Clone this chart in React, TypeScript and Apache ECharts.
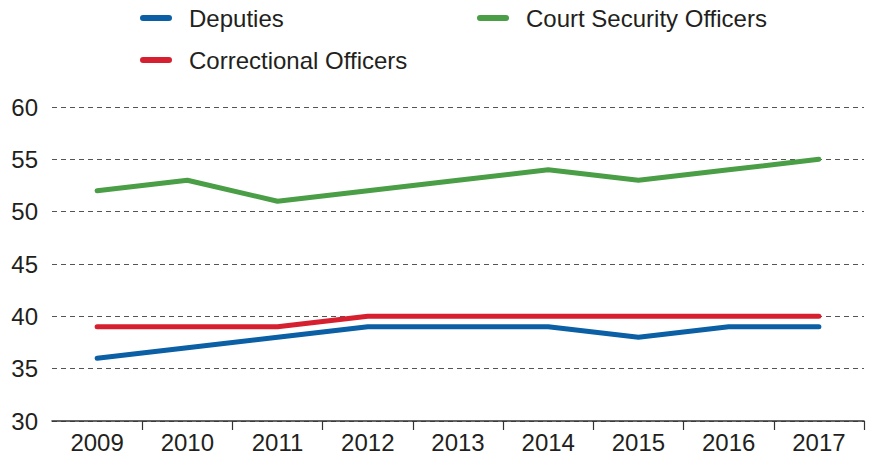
import React, { useEffect, useRef } from "react";
import * as echarts from "echarts";

const years = ["2009", "2010", "2011", "2012", "2013", "2014", "2015", "2016", "2017"];
const deputies = [36, 37, 38, 39, 39, 39, 38, 39, 39];
const courtSecurity = [52, 53, 51, 52, 53, 54, 53, 54, 55];
const correctional = [39, 39, 39, 40, 40, 40, 40, 40, 40];

const FONT = "'Liberation Sans', Arial, sans-serif";
const TEXT = "#231f20";
const PILL = "path://M3,0 H29 A3,3 0 0 1 29,6 H3 A3,3 0 0 1 3,0 Z";

export default function App() {
  const ref = useRef<HTMLDivElement>(null);
  useEffect(() => {
    document.body.style.margin = "0";
    if (!ref.current) return;
    const chart = echarts.init(ref.current, undefined, { renderer: "svg" });
    const legendBase = {
      icon: PILL,
      itemWidth: 32,
      itemHeight: 6,
      selectedMode: false,
      textStyle: { fontFamily: FONT, fontSize: 24, color: TEXT, padding: [0, 0, 0, 12], lineHeight: 24 },
      padding: 0,
    };
    chart.setOption({
      animation: false,
      legend: [
        { ...legendBase, data: ["Deputies"], left: 140, top: 6 },
        { ...legendBase, data: ["Court Security Officers"], left: 477, top: 6 },
        { ...legendBase, data: ["Correctional Officers"], left: 140, top: 48 },
      ],
      grid: { left: 52, right: 10, top: 107, bottom: 43, containLabel: false },
      xAxis: {
        type: "category",
        data: years,
        boundaryGap: true,
        axisLine: { show: true, lineStyle: { color: "#333", width: 1.5 } },
        axisTick: {
          show: true,
          length: 9,
          lineStyle: { color: "#333", width: 1.2 },
          interval: (i: number) => i > 0 && i < years.length,
        },
        axisLabel: { fontFamily: FONT, fontSize: 24, color: TEXT, margin: 9, interval: 0 },
      },
      yAxis: {
        type: "value",
        min: 30,
        max: 60,
        interval: 5,
        axisLine: { show: false },
        axisTick: { show: false },
        axisLabel: { fontFamily: FONT, fontSize: 24, color: TEXT, margin: 14 },
        splitLine: { lineStyle: { color: "#555", type: [5, 4], width: 1 } },
      },
      series: [
        {
          name: "Deputies",
          type: "line",
          data: deputies,
          symbol: "none",
          lineStyle: { color: "#0b5fa5", width: 5, cap: "round", join: "round" },
          itemStyle: { color: "#0b5fa5" },
        },
        {
          name: "Court Security Officers",
          type: "line",
          data: courtSecurity,
          symbol: "none",
          lineStyle: { color: "#4a9e45", width: 5, cap: "round", join: "round" },
          itemStyle: { color: "#4a9e45" },
        },
        {
          name: "Correctional Officers",
          type: "line",
          data: correctional,
          symbol: "none",
          lineStyle: { color: "#d6202f", width: 5, cap: "round", join: "round" },
          itemStyle: { color: "#d6202f" },
        },
      ],
    });
    return () => chart.dispose();
  }, []);
  return <div ref={ref} style={{ width: 874, height: 464 }} />;
}
